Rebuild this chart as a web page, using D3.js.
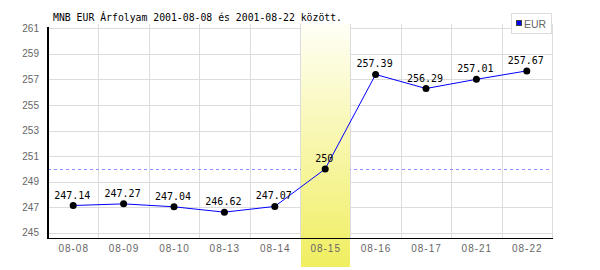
<!DOCTYPE html>
<html lang="hu">
<head>
    <meta charset="UTF-8">
    <title>MNB EUR Árfolyam</title>
    <style>
        body { margin: 0; background: #fff; }
        svg { display: block; }
        .grid line { stroke: #dcdcdc; stroke-width: 1; shape-rendering: crispEdges; }
        .tick-y { font-family: "Liberation Sans", Arial, sans-serif; font-size: 10px; fill: #666; }
        .tick-x { font-family: "Liberation Sans", Arial, sans-serif; font-size: 10px; fill: #666; letter-spacing: 1px; }
        .val { font-family: "DejaVu Sans Mono", "Liberation Mono", monospace; font-size: 10px; fill: #000; }
        .title { font-family: "DejaVu Sans Mono", "Liberation Mono", monospace; font-size: 9.8px; fill: #000; }
    </style>
</head>
<body>
<svg id="chart"></svg>

<script src="https://d3js.org/d3.v7.min.js"></script>
<script>
    // chart data
    const days = ["08-08", "08-09", "08-10", "08-13", "08-14", "08-15", "08-16", "08-17", "08-21", "08-22"];
    const rates = [247.14, 247.27, 247.04, 246.62, 247.07, 250, 257.39, 256.29, 257.01, 257.67];
    const yTicks = [245, 247, 249, 251, 253, 255, 257, 259, 261];
    const refValue = 250;
    const markedDay = "08-15";
    const seriesName = "EUR";
    const title = "MNB EUR Árfolyam 2001-08-08 és 2001-08-22 között.";

    const width = 600;
    const height = 270;
    const plotLeft = 48, plotRight = 552, plotTop = 28.3, plotBottom = 238;

    const svg = d3.select("#chart")
        .attr("width", width)
        .attr("height", height);

    const x = d3.scaleBand().domain(days).range([plotLeft, plotRight]);
    const y = d3.scaleLinear().domain([244.6, 261]).range([plotBottom, plotTop]);

    // gradient for the highlighted day
    const grad = svg.append("defs").append("linearGradient")
        .attr("id", "hl")
        .attr("x1", 0).attr("y1", 0).attr("x2", 0).attr("y2", 1);
    grad.append("stop").attr("offset", "0%").attr("stop-color", "#fffff6");
    grad.append("stop").attr("offset", "100%").attr("stop-color", "#f0ee60");

    // grid
    const grid = svg.append("g").attr("class", "grid");
    grid.selectAll(".h")
        .data(yTicks)
        .enter()
        .append("line")
        .attr("x1", plotLeft).attr("x2", plotRight)
        .attr("y1", d => Math.round(y(d)) + 0.5)
        .attr("y2", d => Math.round(y(d)) + 0.5);
    grid.selectAll(".v")
        .data(days)
        .enter()
        .append("line")
        .attr("x1", d => Math.round(x(d) + x.bandwidth()) + 0.5)
        .attr("x2", d => Math.round(x(d) + x.bandwidth()) + 0.5)
        .attr("y1", plotTop - 4)
        .attr("y2", plotBottom);

    // reference line
    svg.append("line")
        .attr("x1", plotLeft).attr("x2", plotRight)
        .attr("y1", Math.round(y(refValue)) + 0.5)
        .attr("y2", Math.round(y(refValue)) + 0.5)
        .attr("stroke", "#8f8fff")
        .attr("stroke-dasharray", "3,3")
        .attr("shape-rendering", "crispEdges");

    // highlighted band
    svg.append("rect")
        .attr("x", Math.round(x(markedDay)) + 1)
        .attr("width", Math.round(x.bandwidth()) - 1)
        .attr("y", 24)
        .attr("height", height - 3 - 24)
        .attr("fill", "url(#hl)");

    // axes lines
    svg.append("line")
        .attr("x1", plotLeft).attr("x2", plotLeft)
        .attr("y1", 27).attr("y2", plotBottom + 1)
        .attr("stroke", "#000").attr("stroke-width", 2)
        .attr("shape-rendering", "crispEdges");
    svg.append("line")
        .attr("x1", plotLeft).attr("x2", plotRight + 1)
        .attr("y1", plotBottom + 0.5).attr("y2", plotBottom + 0.5)
        .attr("stroke", "#000").attr("stroke-width", 1)
        .attr("shape-rendering", "crispEdges");

    // tick labels
    svg.selectAll(".tick-y")
        .data(yTicks)
        .enter()
        .append("text")
        .attr("class", "tick-y")
        .attr("x", 39)
        .attr("y", d => y(d) + 3.5)
        .attr("text-anchor", "end")
        .text(d => d);

    svg.selectAll(".tick-x")
        .data(days)
        .enter()
        .append("text")
        .attr("class", "tick-x")
        .attr("x", d => x(d) + x.bandwidth() / 2 + 0.5)
        .attr("y", 251.5)
        .attr("text-anchor", "middle")
        .text(d => d);

    // series
    const cx = (d, i) => x(days[i]) + x.bandwidth() / 2;
    const line = d3.line()
        .x((d, i) => cx(d, i))
        .y(d => y(d));

    svg.append("path")
        .datum(rates)
        .attr("d", line)
        .attr("fill", "none")
        .attr("stroke", "#0000ff")
        .attr("stroke-width", 1);

    svg.selectAll(".dot")
        .data(rates)
        .enter()
        .append("circle")
        .attr("class", "dot")
        .attr("cx", cx)
        .attr("cy", d => y(d))
        .attr("r", 3.5)
        .attr("fill", "#000");

    svg.selectAll(".val")
        .data(rates)
        .enter()
        .append("text")
        .attr("class", "val")
        .attr("x", (d, i) => cx(d, i) - 1)
        .attr("y", d => y(d) - 7)
        .attr("text-anchor", "middle")
        .text(d => d);

    // legend
    const legend = svg.append("g");
    legend.append("rect")
        .attr("x", 511.5).attr("y", 13.5)
        .attr("width", 40).attr("height", 20)
        .attr("fill", "#fff")
        .attr("stroke", "#dcdcdc");
    legend.append("rect")
        .attr("x", 516.5).attr("y", 20.5)
        .attr("width", 5).attr("height", 5)
        .attr("fill", "#0000ff")
        .attr("stroke", "#444");
    legend.append("text")
        .attr("x", 524)
        .attr("y", 27.5)
        .attr("font-family", "Liberation Sans, Arial, sans-serif")
        .attr("font-size", "10.5px")
        .attr("fill", "#666")
        .text(seriesName);

    // title
    svg.append("text")
        .attr("class", "title")
        .attr("x", 53)
        .attr("y", 20.5)
        .text(title);
</script>
</body>
</html>
